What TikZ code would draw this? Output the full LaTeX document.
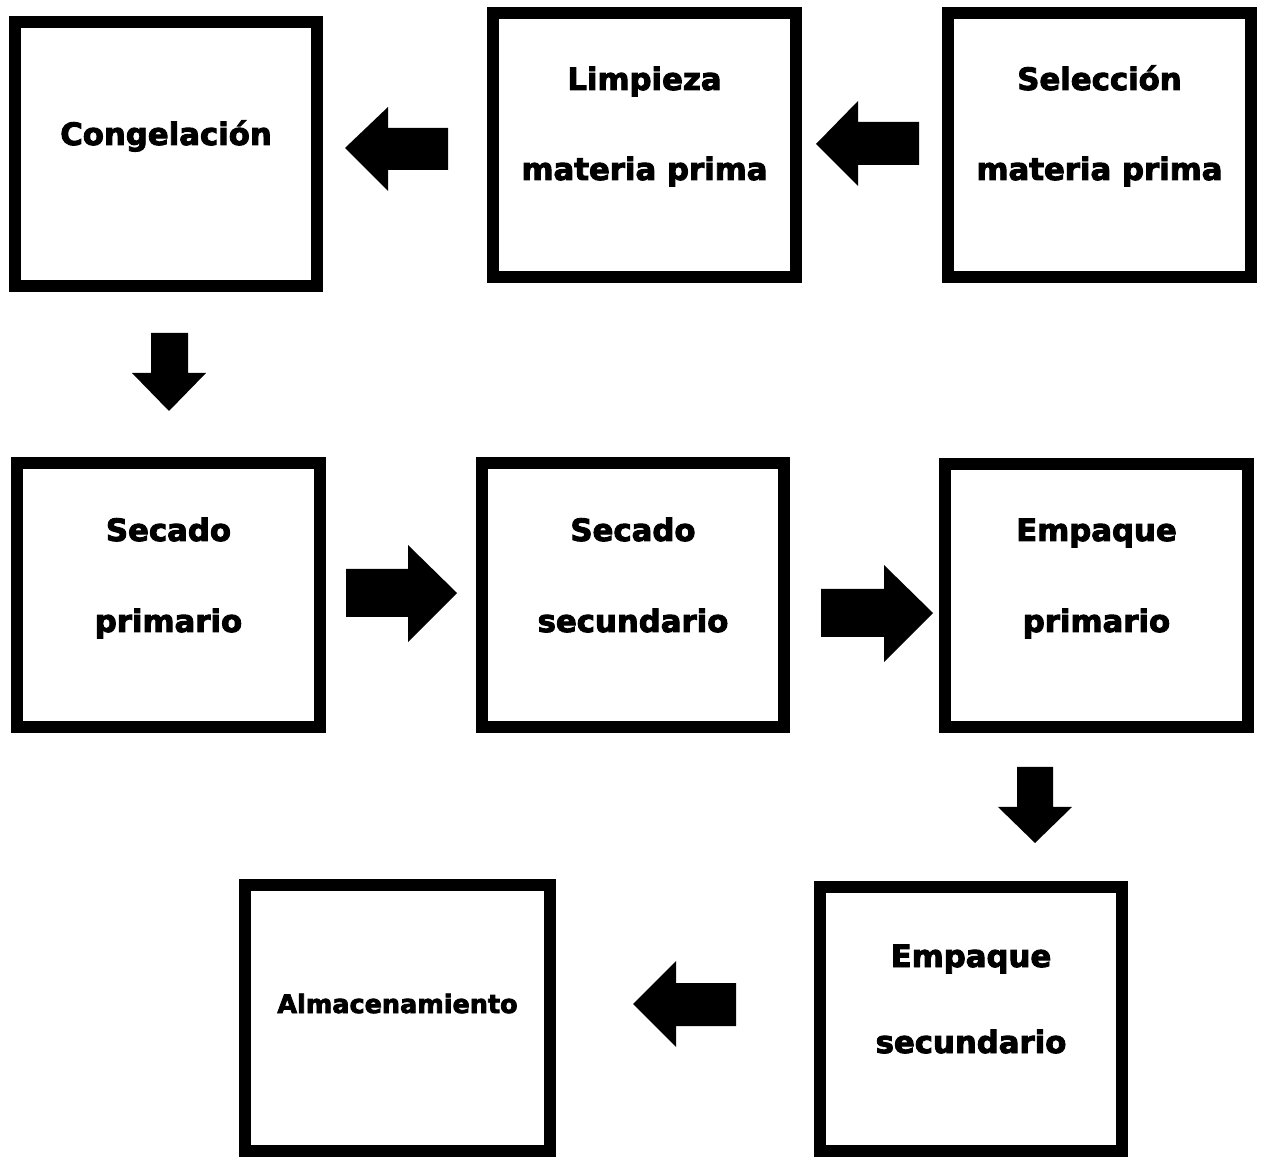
\documentclass[tikz,border=0pt]{standalone}
\usepackage{fontspec}
\newfontfamily\boxfont{DejaVu Sans}[BoldFeatures={FakeBold=3}]
\usepackage{xcolor}
\definecolor{flow-black}{HTML}{000000}
\definecolor{flow-white}{HTML}{FFFFFF}
\usepackage{tikz}

\tikzset{
    stepbox/.style={draw=flow-black, line width=0.24cm, minimum width=6.06cm, minimum height=5.28cm, inner sep=0pt},
    steptext/.style={font=\boxfont\bfseries\fontsize{17.5}{21}\selectfont, anchor=base, inner sep=0pt, text=flow-black},
    smalltext/.style={steptext, font=\boxfont\bfseries\fontsize{14.5}{17}\selectfont}
}

\begin{document}
\begin{tikzpicture}[x=0.02cm, y=-0.02cm]

    % Background
    \fill[flow-white] (0, 0) rectangle (1262, 1158);
    \useasboundingbox (0, 0) rectangle (1262, 1158);

    % Boxes
    \node[stepbox] (congel) at (166, 154) {};
    \node[stepbox] (limp)   at (644.5, 145) {};
    \node[stepbox] (selec)  at (1099.5, 145) {};
    \node[stepbox] (secp)   at (168.5, 595) {};
    \node[stepbox] (secs)   at (633, 595) {};
    \node[stepbox] (empp)   at (1096.5, 595.5) {};
    \node[stepbox] (emps)   at (971, 1019) {};
    \node[stepbox, minimum width=6.10cm, minimum height=5.32cm] (almac) at (397.5, 1018) {};

    % Texts
    \node[steptext] (congel-a) at (166, 145) {Congelación};
    \node[steptext] (limp-a)   at (644.5, 90) {Limpieza};
    \node[steptext] (limp-b)   at (644.5, 180) {materia prima};
    \node[steptext] (selec-a)  at (1099.5, 90) {Selección};
    \node[steptext] (selec-b)  at (1099.5, 180) {materia prima};
    \node[steptext] (secp-a)   at (168.5, 541) {Secado};
    \node[steptext] (secp-b)   at (168.5, 632) {primario};
    \node[steptext] (secs-a)   at (633, 541) {Secado};
    \node[steptext] (secs-b)   at (633, 632) {secundario};
    \node[steptext] (empp-a)   at (1096.5, 541) {Empaque};
    \node[steptext] (empp-b)   at (1096.5, 632) {primario};
    \node[steptext] (emps-a)   at (971, 967) {Empaque};
    \node[steptext] (emps-b)   at (971, 1053) {secundario};
    \node[smalltext] (almac-a) at (397.5, 1013) {Almacenamiento};

    % Arrows
    \fill[flow-black] (345, 148) -- (388, 107) -- (388, 128) -- (448, 128)
                      -- (448, 170) -- (388, 170) -- (388, 191) -- cycle; % Limpieza to Congelación
    \fill[flow-black] (816, 144) -- (858, 101) -- (858, 122) -- (919, 122)
                      -- (919, 165) -- (858, 165) -- (858, 186) -- cycle; % Selección to Limpieza
    \fill[flow-black] (169, 411) -- (132, 373) -- (151, 373) -- (151, 333)
                      -- (188, 333) -- (188, 373) -- (206, 373) -- cycle; % Down
    \fill[flow-black] (457, 593) -- (408, 545) -- (408, 569) -- (346, 569)
                      -- (346, 617) -- (408, 617) -- (408, 642) -- cycle; % Right
    \fill[flow-black] (933, 613) -- (884, 565) -- (884, 589) -- (821, 589)
                      -- (821, 637) -- (884, 637) -- (884, 662) -- cycle; % Right
    \fill[flow-black] (1035, 843) -- (998, 807) -- (1017, 807) -- (1017, 767)
                      -- (1053, 767) -- (1053, 807) -- (1072, 807) -- cycle; % Down
    \fill[flow-black] (633, 1004) -- (676, 961) -- (676, 983) -- (736, 983)
                      -- (736, 1026) -- (676, 1026) -- (676, 1047) -- cycle; % Left

\end{tikzpicture}
\end{document}
